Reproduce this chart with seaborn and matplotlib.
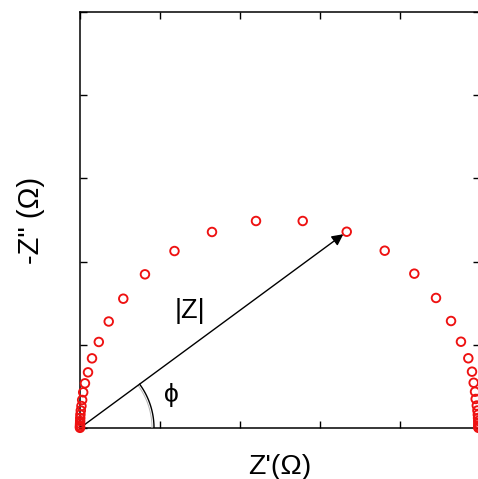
import numpy as np
import matplotlib
matplotlib.use("Agg")
import matplotlib.pyplot as plt
import seaborn as sns
import pandas as pd

# Nyquist data: real part Z' and negative imaginary part -Z'' (ohm)
z_real = [0.000, 0.000, 0.000, 0.001, 0.002, 0.003, 0.005, 0.010, 0.018, 0.027,
          0.040, 0.062, 0.100, 0.150, 0.235, 0.359, 0.541, 0.812, 1.181, 1.650,
          2.200, 2.784, 3.334, 3.809, 4.179, 4.450, 4.638, 4.762, 4.854, 4.900,
          4.921, 4.938, 4.946, 4.960, 4.968, 4.973, 4.976, 4.978, 4.979, 4.980,
          4.980, 4.980]
z_imag = [0.002, 0.012, 0.030, 0.054, 0.084, 0.120, 0.162, 0.210, 0.264, 0.337,
          0.429, 0.537, 0.669, 0.837, 1.034, 1.280, 1.554, 1.847, 2.127, 2.356,
          2.488, 2.488, 2.359, 2.131, 1.855, 1.563, 1.286, 1.037, 0.838, 0.677,
          0.544, 0.436, 0.349, 0.270, 0.210, 0.160, 0.120, 0.085, 0.055, 0.030,
          0.012, 0.002]
vector_index = 22          # point the |Z| vector points at
x_ticks = [0, 1, 2, 3, 4, 5]
y_ticks = [0, 1, 2, 3, 4, 5]

df = pd.DataFrame({"zr": z_real, "zi": z_imag})

sns.set_style("ticks")
plt.rcParams["font.family"] = ["Liberation Sans", "DejaVu Sans"]
plt.rcParams["text.color"] = "black"
plt.rcParams["axes.labelcolor"] = "black"

DPI = 100
fig = plt.figure(figsize=(4.78, 4.79), dpi=DPI)
W, H = 478, 479
ax = fig.add_axes([80 / W, (H - 428) / H, 400 / W, 416 / H])

ax.set_xlim(0, 5)
ax.set_ylim(0, 5)
ax.set_xticks(x_ticks)
ax.set_yticks(y_ticks)
ax.set_xticklabels([])
ax.set_yticklabels([])
ax.tick_params(which="both", direction="in", length=5, width=1.0, color="black",
               top=True, right=True, bottom=True, left=True)
for sp in ax.spines.values():
    sp.set_linewidth(1.1)
    sp.set_color("black")
    sp.set_visible(True)

sns.scatterplot(data=df, x="zr", y="zi", ax=ax, marker="o", s=38,
                facecolors="none", edgecolor="#ee1111", linewidth=1.35,
                zorder=5, clip_on=False, legend=False)

# |Z| vector from the origin to one of the data points
tip = (z_real[vector_index], z_imag[vector_index])
ax.annotate("", xy=tip, xytext=(0, 0),
            arrowprops=dict(arrowstyle="-|>", color="black", lw=1.0,
                            mutation_scale=17, shrinkA=0, shrinkB=3),
            zorder=4)

# phase angle arcs, drawn circular on screen
o_disp = ax.transData.transform((0, 0))
t_disp = ax.transData.transform(tip)
phi = np.arctan2(t_disp[1] - o_disp[1], t_disp[0] - o_disp[0])
inv = ax.transData.inverted()
for radius, col, lw in [(74, "black", 1.0), (72, "#b5b5b5", 0.7)]:
    th = np.linspace(0, phi, 60)
    pts = np.column_stack([o_disp[0] + radius * np.cos(th),
                           o_disp[1] + radius * np.sin(th)])
    d = inv.transform(pts)
    ax.plot(d[:, 0], d[:, 1], color=col, lw=lw, zorder=3)

ax.text(0.275, 0.281, "|Z|", transform=ax.transAxes, fontsize=19.5,
        ha="center", va="center", color="black")
ax.text(0.229, 0.079, "\u03d5", transform=ax.transAxes, fontsize=19,
        ha="center", va="center", color="black")

ax.set_xlabel("Z'(\u03a9)", fontsize=20.5, labelpad=15)
ax.set_ylabel('-Z" (\u03a9)', fontsize=21, labelpad=22)

fig.savefig("out.png", dpi=DPI)
